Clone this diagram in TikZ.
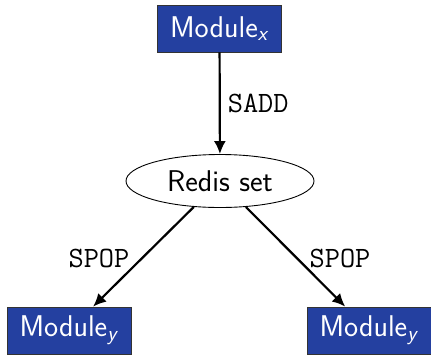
\documentclass[tikz,border=0pt]{standalone}
\usetikzlibrary{shapes.geometric,arrows.meta}
\definecolor{modblue}{RGB}{36,64,160}
\begin{document}
\begin{tikzpicture}[x=1pt,y=-1pt,
  every node/.style={font=\fontsize{30}{36}\selectfont\sffamily},
  modbox/.style={rectangle,fill=modblue,draw=black!80,line width=0.8pt,text=white,
    minimum width=124pt,minimum height=47pt,inner sep=0pt},
  setnode/.style={ellipse,draw=black,line width=0.9pt,minimum width=188pt,minimum height=53pt,inner sep=0pt},
  conn/.style={line width=2.2pt,-{Latex[length=13pt,width=12pt]}},
  cmd/.style={font=\fontsize{29.5}{35}\selectfont\ttfamily,inner sep=0pt}]
\useasboundingbox (0,0) rectangle (431,354);
\node[modbox] (mx) at (219.5,28.5) {Module\textsubscript{\textit{x}}};
\node[setnode] (rs) at (220,181) {Redis set};
\node[modbox] (my1) at (69,330.5) {Module\textsubscript{\textit{y}}};
\node[modbox] (my2) at (369,330.5) {Module\textsubscript{\textit{y}}};
\draw[conn] (mx) -- (rs) node[cmd,midway,anchor=west,xshift=7pt] (l1) {SADD};
\draw[conn] (rs) -- (my1) node[cmd,midway,anchor=east,xshift=-13pt,yshift=-2pt] (l2) {SPOP};
\draw[conn] (rs) -- (my2) node[cmd,midway,anchor=west,xshift=13pt,yshift=-2pt] (l3) {SPOP};
\end{tikzpicture}
\end{document}
